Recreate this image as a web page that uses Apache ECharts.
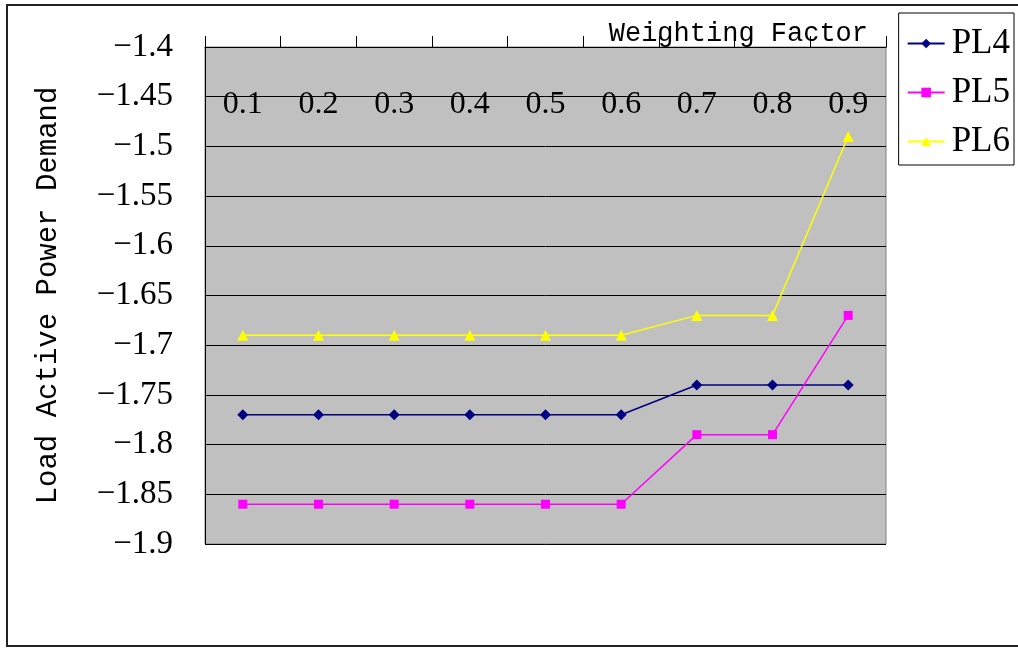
<!DOCTYPE html>
<html>
<head>
<meta charset="utf-8">
<script src="https://cdn.jsdelivr.net/npm/echarts@6/dist/echarts.min.js"></script>
<style>
  html, body { margin: 0; padding: 0; background: #fff; }
  #chart { width: 1018px; height: 649px; }
</style>
</head>
<body>
<div id="chart"></div>
<script>
// Weighting factor categories along the top axis
const categories = ['0.1', '0.2', '0.3', '0.4', '0.5', '0.6', '0.7', '0.8', '0.9'];

// Load active power demand per load bus
const pl4 = [-1.77, -1.77, -1.77, -1.77, -1.77, -1.77, -1.74, -1.74, -1.74];
const pl5 = [-1.86, -1.86, -1.86, -1.86, -1.86, -1.86, -1.79, -1.79, -1.67];
const pl6 = [-1.69, -1.69, -1.69, -1.69, -1.69, -1.69, -1.67, -1.67, -1.49];

// Value-axis tick labels, from the minimum upward
const yTickLabels = ['\u22121.9', '\u22121.85', '\u22121.8', '\u22121.75', '\u22121.7',
  '\u22121.65', '\u22121.6', '\u22121.55', '\u22121.5', '\u22121.45', '\u22121.4'];
const yMin = -1.9, yMax = -1.4, yStep = 0.05;

const chart = echarts.init(document.getElementById('chart'), null, { renderer: 'canvas' });

const serif = '"Liberation Serif", "Times New Roman", serif';
const mono = '"Liberation Mono", "Courier New", Courier, monospace';

function lineSeries(name, data, color, symbol, size) {
  return {
    name: name,
    type: 'line',
    data: data,
    symbol: symbol,
    symbolSize: size,
    showSymbol: true,
    animation: false,
    lineStyle: { color: color, width: 1.5 },
    itemStyle: { color: color, borderWidth: 0 }
  };
}

chart.setOption({
  backgroundColor: '#ffffff',
  animation: false,
  graphic: [{
    type: 'rect',
    shape: { x: 7, y: 5, width: 1020, height: 641 },
    style: { fill: 'none', stroke: '#222', lineWidth: 2 },
    silent: true,
    z: 100
  }],
  grid: {
    left: 205, top: 47, right: 132, bottom: 105,
    show: true,
    backgroundColor: '#c0c0c0',
    borderColor: '#808080',
    borderWidth: 1
  },
  legend: {
    right: 4, top: 13,
    orient: 'vertical',
    padding: [13, 4, 6, 8],
    itemGap: 14,
    itemWidth: 37,
    itemHeight: 12,
    backgroundColor: '#ffffff',
    borderColor: '#000',
    borderWidth: 1,
    textStyle: { fontFamily: serif, fontSize: 35, color: '#000', padding: [0, 0, 0, 2] },
    data: ['PL4', 'PL5', 'PL6']
  },
  xAxis: {
    type: 'category',
    position: 'top',
    data: categories,
    boundaryGap: true,
    name: 'Weighting Factor',
    nameLocation: 'end',
    nameGap: -18,
    nameTextStyle: {
      fontFamily: mono, fontSize: 27, color: '#000',
      align: 'right', verticalAlign: 'bottom', padding: [0, 0, 0, 0]
    },
    axisLine: { show: true, lineStyle: { color: '#000', width: 1 } },
    axisTick: { show: true, inside: false, length: 11, alignWithLabel: false, lineStyle: { color: '#000' } },
    axisLabel: {
      inside: true,
      margin: 42,
      fontFamily: serif,
      fontSize: 32,
      color: '#000'
    },
    splitLine: { show: false }
  },
  yAxis: {
    type: 'value',
    min: yMin, max: yMax, interval: yStep,
    name: 'Load Active Power Demand',
    nameLocation: 'middle',
    nameGap: 142,
    nameRotate: 90,
    nameTextStyle: { fontFamily: mono, fontSize: 29, color: '#000' },
    axisLine: { show: true, lineStyle: { color: '#000', width: 1 } },
    axisTick: { show: true, inside: true, length: 12, lineStyle: { color: '#000' } },
    axisLabel: {
      margin: 32,
      fontFamily: serif,
      fontSize: 33,
      color: '#000',
      formatter: function (v) {
        const i = Math.round((v - yMin) / yStep);
        return yTickLabels[i];
      }
    },
    splitLine: { show: true, lineStyle: { color: '#000', width: 1 } }
  },
  series: [
    lineSeries('PL4', pl4, '#000080', 'diamond', 11),
    lineSeries('PL5', pl5, '#ff00ff', 'rect', 9),
    lineSeries('PL6', pl6, '#ffff00', 'triangle', 11)
  ]
});
</script>
</body>
</html>
